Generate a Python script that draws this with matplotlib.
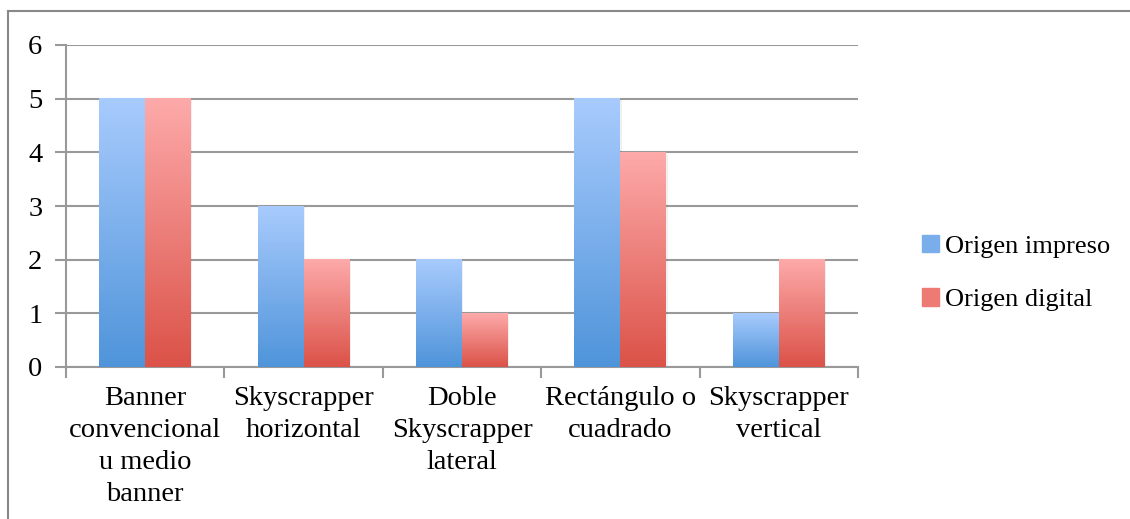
import numpy as np
import matplotlib
matplotlib.use("Agg")
import matplotlib.pyplot as plt
from matplotlib.colors import LinearSegmentedColormap
from matplotlib.lines import Line2D
from matplotlib.patches import Rectangle

categories = ["Banner\nconvencional\nu medio\nbanner", "Skyscrapper\nhorizontal",
              "Doble\nSkyscrapper\nlateral", "Rectángulo o\ncuadrado", "Skyscrapper\nvertical"]
impreso = [5, 3, 2, 5, 1]
digital = [5, 2, 1, 4, 2]
series_names = ["Origen impreso", "Origen digital"]
yticks = [0, 1, 2, 3, 4, 5, 6]

plt.rcParams['font.family'] = ['Liberation Serif', 'DejaVu Serif']

W, H = 1130, 519
fig = plt.figure(figsize=(W / 100, H / 100), dpi=100)
ax = fig.add_axes([66 / W, 1 - 367 / H, (858 - 66) / W, (367 - 45) / H])

blue_cmap = LinearSegmentedColormap.from_list("b", ["#4F94DA", "#A8CBFD"])
red_cmap = LinearSegmentedColormap.from_list("r", ["#DB5248", "#FDAAAA"])

x = np.arange(len(categories))
bw = 0.29
grad = np.linspace(0, 1, 256).reshape(-1, 1)
for vals, off, cmap in [(impreso, -bw / 2, blue_cmap), (digital, bw / 2, red_cmap)]:
    bars = ax.bar(x + off, vals, bw, color="none", zorder=3)
    for b in bars:
        x0, y0 = b.get_x(), b.get_y()
        w, h = b.get_width(), b.get_height()
        ax.add_patch(Rectangle((x0 + 0.008, y0 - 0.025), w, h, color="#000000", alpha=0.06,
                               zorder=2.5, lw=0))
        ax.imshow(grad, cmap=cmap, extent=(x0, x0 + w, y0, y0 + h), origin="lower",
                  aspect="auto", zorder=3)

ax.set_xlim(-0.5, len(categories) - 0.5)
ax.set_ylim(0, 6)
ax.set_yticks(yticks)
ax.set_yticklabels([str(t) for t in yticks], fontsize=20.5)
ax.yaxis.grid(True, color="#999999", lw=1.5, zorder=1)
ax.set_axisbelow(True)
ax.tick_params(axis="y", length=8, color="#999999", width=1.5, pad=9)
ax.set_xticks(np.arange(-0.5, len(categories), 1.0))
ax.set_xticklabels([])
ax.tick_params(axis="x", length=8, color="#999999", width=1.5)
ax.set_xticks(x, minor=True)
ax.set_xticklabels(categories, minor=True, fontsize=20.5, linespacing=1.36)
ax.tick_params(axis="x", which="minor", length=0, pad=14)
for s in ["top", "right"]:
    ax.spines[s].set_visible(False)
for s in ["left", "bottom"]:
    ax.spines[s].set_color("#999999")
    ax.spines[s].set_linewidth(1.5)

handles = [Rectangle((0, 0), 1, 1, color="#7AAEEA"), Rectangle((0, 0), 1, 1, color="#EE7A74")]
leg = fig.legend(handles, series_names, loc="center left", bbox_to_anchor=(898 / W, 1 - 273 / H),
                 frameon=False, fontsize=19, handlelength=0.65, handleheight=0.65,
                 handletextpad=0.25, labelspacing=1.15)

fig.add_artist(Line2D([8 / W, 8 / W], [0, 1 - 11 / H], color="#888888", lw=1.5))
fig.add_artist(Line2D([8 / W, 1], [1 - 11 / H, 1 - 11 / H], color="#888888", lw=1.5))

fig.savefig("out.png", dpi=100)
